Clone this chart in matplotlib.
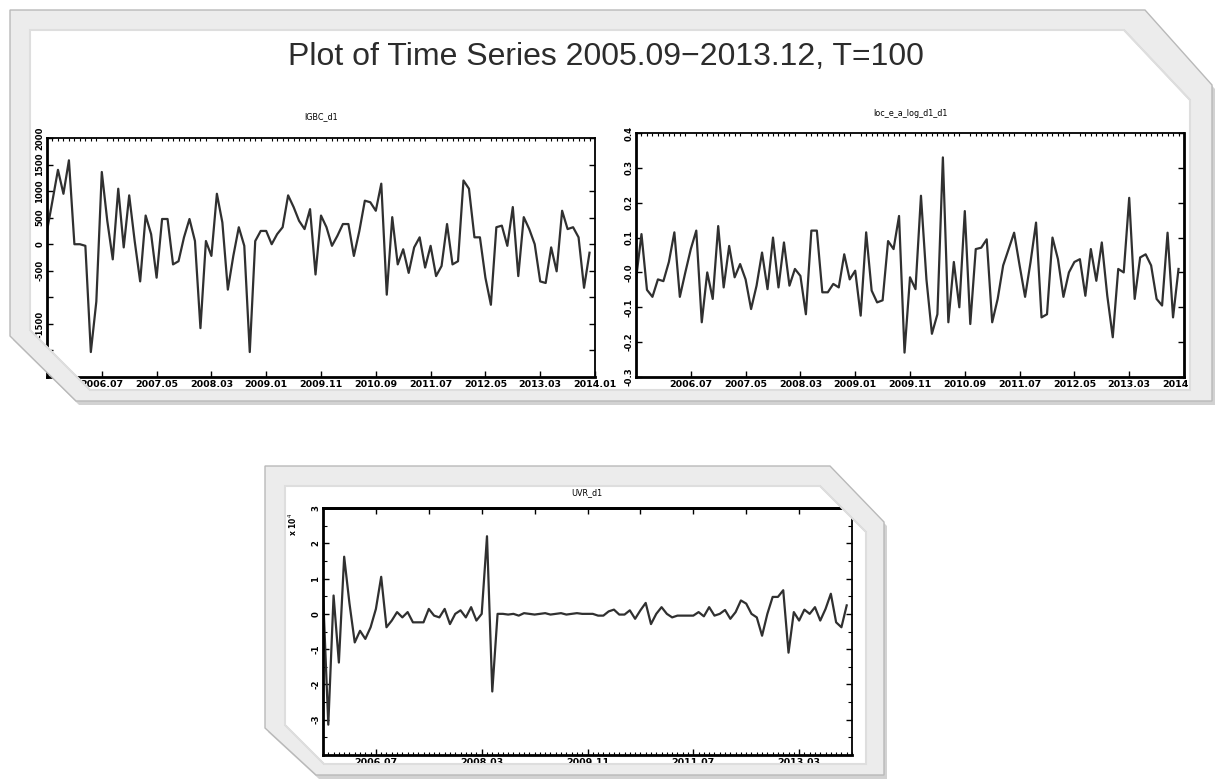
import numpy as np
import matplotlib
matplotlib.use("Agg")
import matplotlib.pyplot as plt
from matplotlib.patches import PathPatch, Polygon
from matplotlib.path import Path
from matplotlib.ticker import MultipleLocator, FixedLocator, FixedFormatter

W, H = 1215, 783

# monthly differenced series, 2005.09 - 2013.12 (T = 100)
igbc_d1 = [
    250, 820, 1400, 950, 1580, 0, 0, -30, -2030, -1080,
    1360, 440, -285, 1045, -60, 920, 60, -700, 540, 190,
    -630, 475, 475, -380, -320, 130, 475, 60, -1580, 60,
    -220, 950, 410, -855, -220, 320, -30, -2030, 60, 250,
    250, 0, 190, 320, 920, 700, 440, 285, 660, -570,
    540, 320, -30, 160, 380, 380, -220, 250, 820, 790,
    630, 1140, -950, 510, -380, -95, -540, -60, 130, -440,
    -30, -600, -410, 380, -380, -320, 1200, 1045, 130, 130,
    -630, -1140, 320, 350, -30, 700, -600, 510, 285, 0,
    -700, -730, -60, -510, 630, 285, 320, 130, -820, -160,
]

loc_e_a_log_d1_d1 = [
    -0.02, 0.11, -0.05, -0.07, -0.02, -0.025, 0.03, 0.115, -0.07, 0.0,
    0.067, 0.12, -0.143, 0.0, -0.076, 0.133, -0.043, 0.076, -0.014, 0.024,
    -0.02, -0.105, -0.038, 0.057, -0.048, 0.1, -0.043, 0.086, -0.038, 0.01,
    -0.01, -0.12, 0.12, 0.12, -0.057, -0.057, -0.033, -0.043, 0.052, -0.02,
    0.005, -0.124, 0.115, -0.052, -0.086, -0.08, 0.09, 0.067, 0.162, -0.23,
    -0.014, -0.048, 0.22, -0.02, -0.176, -0.12, 0.33, -0.143, 0.03, -0.1,
    0.176, -0.148, 0.067, 0.071, 0.095, -0.143, -0.076, 0.02, 0.067, 0.114,
    0.02, -0.07, 0.03, 0.143, -0.129, -0.12, 0.1, 0.038, -0.07, 0.0,
    0.03, 0.038, -0.067, 0.067, -0.024, 0.086, -0.067, -0.186, 0.01, 0.0,
    0.214, -0.076, 0.043, 0.052, 0.02, -0.076, -0.095, 0.114, -0.129, 0.01,
]

# UVR_d1 in units of 10^4
uvr_d1 = [
    0.6, -3.14, 0.52, -1.38, 1.62, 0.3, -0.81, -0.48, -0.71, -0.38,
    0.14, 1.05, -0.38, -0.19, 0.05, -0.1, 0.05, -0.24, -0.24, -0.24,
    0.14, -0.05, -0.1, 0.14, -0.29, 0.0, 0.1, -0.1, 0.19, -0.19,
    0.0, 2.2, -2.2, 0.0, 0.0, -0.02, 0.0, -0.05, 0.02, 0.0,
    -0.02, 0.0, 0.02, -0.02, 0.0, 0.02, -0.02, 0.0, 0.02, 0.0,
    0.0, 0.0, -0.05, -0.05, 0.07, 0.12, -0.02, -0.02, 0.1, -0.14,
    0.1, 0.31, -0.29, 0.0, 0.19, 0.0, -0.1, -0.05, -0.05, -0.05,
    -0.05, 0.05, -0.07, 0.19, -0.05, 0.0, 0.11, -0.14, 0.05, 0.38,
    0.29, 0.0, -0.1, -0.62, 0.0, 0.48, 0.48, 0.67, -1.1, 0.05,
    -0.19, 0.12, 0.0, 0.19, -0.19, 0.14, 0.57, -0.24, -0.38, 0.24,
]

# x tick positions are months counted from 2005.09
ticks_10 = [10, 20, 30, 40, 50, 60, 70, 80, 90, 100]
labels_10 = ["2006.07", "2007.05", "2008.03", "2009.01", "2009.11",
             "2010.09", "2011.07", "2012.05", "2013.03", "2014.01"]
ticks_20 = [10, 30, 50, 70, 90]
labels_20 = ["2006.07", "2008.03", "2009.11", "2011.07", "2013.03"]

igbc_yticks = [-2000, -1500, -1000, -500, 0, 500, 1000, 1500, 2000]
igbc_ylabels = ["", "-1500", "", "-500", "0", "500", "1000", "1500", "2000"]
loc_yticks = [-0.3, -0.2, -0.1, 0.0, 0.1, 0.2, 0.3, 0.4]
loc_ylabels = ["-0.3", "-0.2", "-0.1", "-0.0", "0.1", "0.2", "0.3", "0.4"]
uvr_yticks = [-3, -2, -1, 0, 1, 2, 3]
uvr_ylabels = ["-3", "-2", "-1", "0", "1", "2", "3"]

LINE = "#303030"
XFONT = dict(family="DejaVu Sans", size=6.8, weight="bold")
YFONT = dict(family="DejaVu Sans", size=6.1, weight="bold")

fig = plt.figure(figsize=(W / 100, H / 100), dpi=100)
fig.patch.set_facecolor("white")


def fx(x):
    return x / W


def fy(y):
    return 1 - y / H


def px_axes(l, t, r, b):
    return fig.add_axes([fx(l), fy(b), (r - l) / W, (b - t) / H])


def style_axes(ax, values, yticks, ylabels, ylim, xticks, xlabels, top_minor=True):
    x = np.arange(len(values))
    ax.plot(x, values, color=LINE, lw=1.6)
    ax.set_xlim(0, 100)
    ax.set_ylim(*ylim)
    ax.xaxis.set_major_locator(FixedLocator(xticks))
    ax.xaxis.set_major_formatter(FixedFormatter(xlabels))
    ax.yaxis.set_major_locator(FixedLocator(yticks))
    ax.yaxis.set_major_formatter(FixedFormatter(ylabels))
    ax.tick_params(axis="both", which="major", direction="in", length=4,
                   width=1, colors="black", pad=2)
    ax.tick_params(axis="y", which="major", left=True, right=True)
    if top_minor:
        ax.xaxis.set_minor_locator(MultipleLocator(1))
        ax.tick_params(axis="x", which="major", bottom=True, top=False)
        ax.tick_params(axis="x", which="minor", bottom=False, top=True,
                       direction="in", length=2, width=0.8)
    xfp = matplotlib.font_manager.FontProperties(**XFONT)
    yfp = matplotlib.font_manager.FontProperties(**YFONT)
    for lab in ax.get_xticklabels():
        lab.set_fontproperties(xfp)
    for lab in ax.get_yticklabels():
        lab.set_fontproperties(yfp)
        lab.set_rotation(90)
        lab.set_va("center")
    for side in ("left", "bottom"):
        ax.spines[side].set_linewidth(2.0)
    for side in ("top", "right"):
        ax.spines[side].set_linewidth(1.3)


# top-left panel
ax1 = px_axes(47, 138, 595, 377)
style_axes(ax1, igbc_d1, igbc_yticks, igbc_ylabels, (-2500, 2000), ticks_10, labels_10)
fig.text(fx(321), fy(117), "IGBC_d1", ha="center", va="center", fontsize=5.8,
         family="DejaVu Sans")

# top-right panel
ax2 = px_axes(636, 133, 1184, 377)
style_axes(ax2, loc_e_a_log_d1_d1, loc_yticks, loc_ylabels, (-0.3, 0.4), ticks_10, labels_10)
ax2.spines["right"].set_linewidth(2.0)
fig.text(fx(910), fy(113), "loc_e_a_log_d1_d1", ha="center", va="center",
         fontsize=5.8, family="DejaVu Sans")

# bottom panel
ax3 = px_axes(323, 508, 852, 755)
style_axes(ax3, uvr_d1, uvr_yticks, uvr_ylabels, (-4, 3), ticks_20, labels_20,
           top_minor=False)
ax3.xaxis.set_minor_locator(MultipleLocator(1))
ax3.yaxis.set_minor_locator(MultipleLocator(0.5))
ax3.tick_params(axis="x", which="minor", bottom=True, top=False, direction="in",
                length=2, width=0.8)
ax3.tick_params(axis="x", which="major", bottom=True, top=False)
ax3.tick_params(axis="y", which="minor", left=True, right=True, direction="in",
                length=3, width=0.8)
ax3.spines["top"].set_linewidth(2.0)
top_ax = ax3.secondary_xaxis("top")
top_ax.set_xticks(ticks_10)
top_ax.set_xticklabels([])
top_ax.tick_params(direction="in", length=4, width=1)
top_ax.spines["top"].set_linewidth(2.0)
fig.text(fx(587), fy(493), "UVR_d1", ha="center", va="center", fontsize=5.8,
         family="DejaVu Sans")
fig.text(fx(293), fy(524), r"x 10$^4$", ha="center", va="center", fontsize=5.5,
         rotation=90, family="DejaVu Sans", weight="bold")

fig.text(fx(606), fy(57), "Plot of Time Series 2005.09\u22122013.12, T=100",
         ha="center", va="center", fontsize=23, family="Liberation Sans",
         color="#2c2c2c")


# picture frames around the two figure blocks
def to_fig(points):
    return [(fx(x), fy(y)) for x, y in points]


def frame(outer, inner):
    # drop shadow and white card sit under the axes, the border ring on top
    shadow = [(x + 3, y + 4) for x, y in outer]
    fig.add_artist(Polygon(to_fig(shadow), closed=True, transform=fig.transFigure,
                           facecolor="#d2d2d2", edgecolor="none", zorder=-3))
    fig.add_artist(Polygon(to_fig(inner), closed=True, transform=fig.transFigure,
                           facecolor="white", edgecolor="none", zorder=-2))
    o = to_fig(outer)
    i = to_fig(inner[::-1])
    verts = o + [o[0]] + i + [i[0]]
    codes = ([Path.MOVETO] + [Path.LINETO] * (len(o) - 1) + [Path.CLOSEPOLY]
             + [Path.MOVETO] + [Path.LINETO] * (len(i) - 1) + [Path.CLOSEPOLY])
    fig.add_artist(PathPatch(Path(verts, codes), transform=fig.transFigure,
                             facecolor="#ececec", edgecolor="#b9b9b9", lw=1.0, zorder=5))
    fig.add_artist(Polygon(to_fig(inner), closed=True, transform=fig.transFigure,
                           facecolor="none", edgecolor="#dedede", lw=1.5, zorder=5))


frame([(10, 10), (1145, 10), (1212, 85), (1212, 401), (76, 401), (10, 336)],
      [(30, 30), (1124, 30), (1190, 100), (1190, 390), (90, 390), (30, 330)])
frame([(265, 466), (830, 466), (884, 522), (884, 775), (316, 775), (265, 728)],
      [(285, 486), (820, 486), (866, 532), (866, 764), (324, 764), (285, 725)])

fig.savefig("out.png", dpi=100, facecolor="white")
